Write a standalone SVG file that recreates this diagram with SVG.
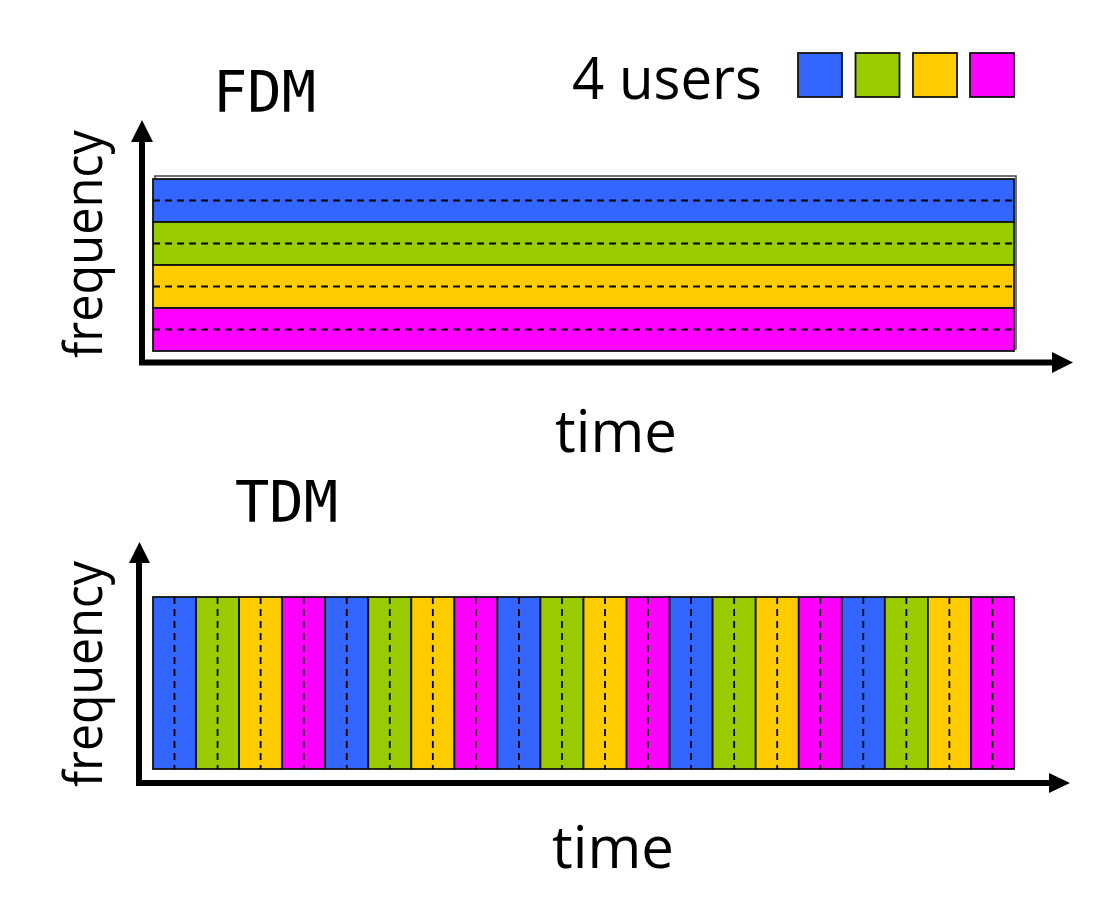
<svg xmlns="http://www.w3.org/2000/svg" width="1109" height="914" viewBox="0 0 1109 914">
<style>
.b{fill:#3366FF}.g{fill:#99CC00}.y{fill:#FFCC00}.m{fill:#FF00FF}
.cell{stroke:#111;stroke-width:1.8}
.dash{stroke:#000;stroke-width:1.8;stroke-dasharray:7,5;fill:none}
.ax{stroke:#000;stroke-width:6;fill:none}
.head{fill:#000}
.mono{font-family:"DejaVu Sans Mono","Liberation Mono",monospace;font-size:57px;fill:#000}
.lbl{font-family:"Open Sans","Liberation Sans",sans-serif;fill:#000}
</style>
<rect width="1109" height="914" fill="#fff"/>

<g id="legend">
  <text class="lbl" x="572" y="99" font-size="58" textLength="190" lengthAdjust="spacingAndGlyphs">4 users</text>
  <rect class="b cell" x="798" y="53" width="44" height="44"/>
  <rect class="g cell" x="855.5" y="53" width="44" height="44"/>
  <rect class="y cell" x="913" y="53" width="44" height="44"/>
  <rect class="m cell" x="970" y="53" width="44" height="44"/>
</g>

<g id="fdm-title"><text class="mono" x="213" y="112">FDM</text></g>
<g id="fdm-ylabel"><text class="lbl" font-size="53" text-anchor="middle" textLength="228" lengthAdjust="spacingAndGlyphs" transform="translate(102,244) rotate(-90)">frequency</text></g>
<g id="fdm-xlabel"><text class="lbl" x="616" y="452" font-size="58" text-anchor="middle" textLength="122" lengthAdjust="spacingAndGlyphs">time</text></g>

<g id="fdm-bands">
  <rect x="155" y="176" width="861" height="173" fill="none" stroke="#444" stroke-width="1.5"/>
  <rect class="b cell" x="153" y="179" width="861" height="43"/>
  <rect class="g cell" x="153" y="222" width="861" height="43"/>
  <rect class="y cell" x="153" y="265" width="861" height="43"/>
  <rect class="m cell" x="153" y="308" width="861" height="43"/>
  <line class="dash" x1="153" y1="200.5" x2="1014" y2="200.5"/>
  <line class="dash" x1="153" y1="243.5" x2="1014" y2="243.5"/>
  <line class="dash" x1="153" y1="286.5" x2="1014" y2="286.5"/>
  <line class="dash" x1="153" y1="329.5" x2="1014" y2="329.5"/>
</g>

<g id="tdm-title"><text class="mono" x="235" y="522">TDM</text></g>
<g id="tdm-ylabel"><text class="lbl" font-size="53" text-anchor="middle" textLength="226" lengthAdjust="spacingAndGlyphs" transform="translate(102,674) rotate(-90)">frequency</text></g>
<g id="tdm-xlabel"><text class="lbl" x="613" y="868" font-size="58" text-anchor="middle" textLength="122" lengthAdjust="spacingAndGlyphs">time</text></g>

<g id="tdm-slots">
  <rect class="b cell" x="153" y="597" width="43.05" height="172"/>
  <rect class="g cell" x="196.05" y="597" width="43.05" height="172"/>
  <rect class="y cell" x="239.1" y="597" width="43.05" height="172"/>
  <rect class="m cell" x="282.15" y="597" width="43.05" height="172"/>
  <rect class="b cell" x="325.2" y="597" width="43.05" height="172"/>
  <rect class="g cell" x="368.25" y="597" width="43.05" height="172"/>
  <rect class="y cell" x="411.3" y="597" width="43.05" height="172"/>
  <rect class="m cell" x="454.35" y="597" width="43.05" height="172"/>
  <rect class="b cell" x="497.4" y="597" width="43.05" height="172"/>
  <rect class="g cell" x="540.45" y="597" width="43.05" height="172"/>
  <rect class="y cell" x="583.5" y="597" width="43.05" height="172"/>
  <rect class="m cell" x="626.55" y="597" width="43.05" height="172"/>
  <rect class="b cell" x="669.6" y="597" width="43.05" height="172"/>
  <rect class="g cell" x="712.65" y="597" width="43.05" height="172"/>
  <rect class="y cell" x="755.7" y="597" width="43.05" height="172"/>
  <rect class="m cell" x="798.75" y="597" width="43.05" height="172"/>
  <rect class="b cell" x="841.8" y="597" width="43.05" height="172"/>
  <rect class="g cell" x="884.85" y="597" width="43.05" height="172"/>
  <rect class="y cell" x="927.9" y="597" width="43.05" height="172"/>
  <rect class="m cell" x="970.95" y="597" width="43.05" height="172"/>
  <path class="dash" d="M174.5 597V769M217.55 597V769M260.6 597V769M303.65 597V769M346.7 597V769M389.75 597V769M432.8 597V769M475.85 597V769M518.9 597V769M561.95 597V769M605 597V769M648.05 597V769M691.1 597V769M734.15 597V769M777.2 597V769M820.25 597V769M863.3 597V769M906.35 597V769M949.4 597V769M992.45 597V769"/>
</g>

<g id="connectors">
  <path class="ax" d="M142 365V139"/>
  <polygon class="head" points="131,142 142,120 153,142"/>
  <path class="ax" d="M139 362.5H1054"/>
  <polygon class="head" points="1052,352 1073,362.5 1052,373"/>
  <path class="ax" d="M139 786V560"/>
  <polygon class="head" points="129,563 139.5,542 150,563"/>
  <path class="ax" d="M136 783H1051"/>
  <polygon class="head" points="1049,773 1070,783 1049,793"/>
</g>
</svg>
